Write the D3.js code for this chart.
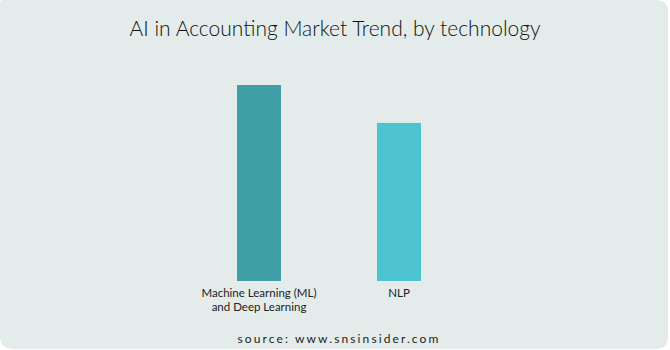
<!DOCTYPE html>
<html>
<head>
<meta charset="utf-8">
<script src="https://cdn.jsdelivr.net/npm/d3@7"></script>
<style>
body { margin: 0; background: #fff; }
svg { display: block; }
</style>
</head>
<body>
<svg width="670" height="350"></svg>
<script>
// chart data
var categories = ['Machine Learning (ML)|and Deep Learning', 'NLP']
var values = [62, 50]
var colors = ['#3e9fa6', '#4ec4d0']

var svg = d3.select('svg')
var W = 670, H = 350

// card background, rounded corners
var bg = d3.path()
bg.moveTo(3, 0)
bg.lineTo(W - 14, 0)
bg.quadraticCurveTo(W - 2, 0, W - 2, 12)
bg.lineTo(W - 2, H - 14)
bg.quadraticCurveTo(W - 2, H - 1, W - 14, H - 1)
bg.lineTo(14, H - 1)
bg.quadraticCurveTo(0, H - 1, 0, H - 14)
bg.lineTo(0, 3)
bg.quadraticCurveTo(0, 0, 3, 0)
svg.append('path').attr('d', bg.toString()).attr('fill', '#e3eceb')

svg.append('text')
    .attr('x', 335).attr('y', 36)
    .attr('text-anchor', 'middle')
    .style('font-family', 'Lato, sans-serif')
    .style('font-weight', 300)
    .style('font-size', '21px')
    .attr('fill', '#111')
    .text('AI in Accounting Market Trend, by technology')

var x = d3.scaleBand().domain(categories).range([167, 491]).paddingInner(96 / 140).paddingOuter(0.5)
var y = d3.scaleLinear().domain([0, 62]).range([281, 85])

svg.selectAll('rect.bar').data(values).enter().append('rect')
    .attr('class', 'bar')
    .attr('x', function(d, i) { return x(categories[i]) })
    .attr('width', x.bandwidth())
    .attr('y', function(d) { return y(d) })
    .attr('height', function(d) { return y(0) - y(d) })
    .attr('fill', function(d, i) { return colors[i] })

var labels = svg.selectAll('text.lab').data(categories).enter().append('text')
    .attr('class', 'lab')
    .attr('text-anchor', 'middle')
    .attr('x', function(d) { return x(d) + x.bandwidth() / 2 })
    .attr('y', 297)
    .style('font-family', 'Lato, sans-serif')
    .style('font-size', '11.5px')
    .attr('fill', '#222')
labels.each(function(d) {
    var lines = d.split('|')
    var t = d3.select(this)
    lines.forEach(function(l, k) {
        t.append('tspan').attr('x', t.attr('x')).attr('dy', k == 0 ? 0 : 14).text(l)
    })
})

svg.append('text')
    .attr('x', 339).attr('y', 343)
    .attr('text-anchor', 'middle')
    .style('font-family', 'Lato, sans-serif')
    .style('font-size', '12px')
    .style('letter-spacing', '2.1px')
    .attr('fill', '#222')
    .text('source: www.snsinsider.com')
</script>
</body>
</html>
